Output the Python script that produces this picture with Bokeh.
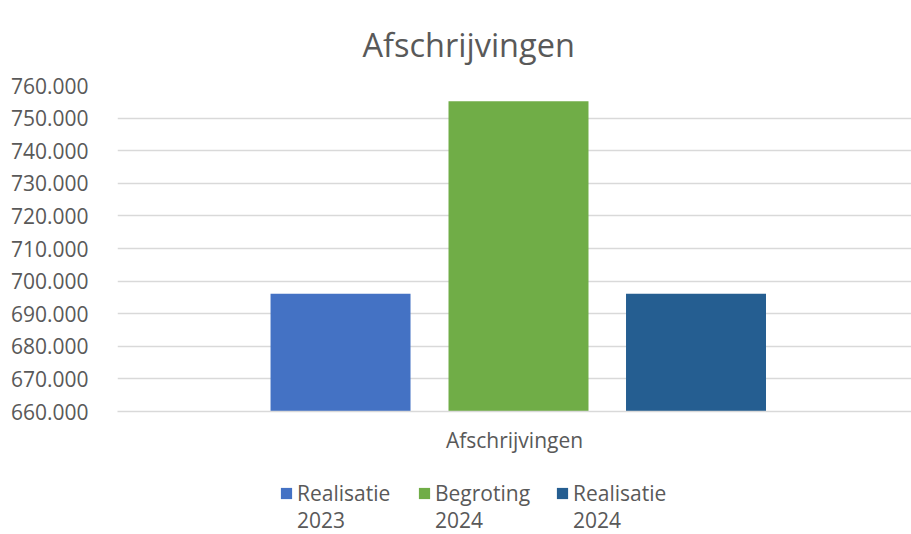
from bokeh.plotting import figure
from bokeh.layouts import column
from bokeh.models import (FactorRange, Range1d, FixedTicker, Legend, LegendItem,
                          ColumnDataSource, Title)
from bokeh.transform import dodge
from bokeh.embed import file_html
from bokeh.resources import INLINE

# ---- data ----
title_text = "Afschrijvingen"
category = ["Afschrijvingen"]
series_names = ["Realisatie\n2023", "Begroting\n2024", "Realisatie\n2024"]
series_values = [696100, 755200, 696100]
series_colors = ["#4472C4", "#70AD47", "#255E91"]
y_ticks = [660000, 670000, 680000, 690000, 700000, 710000, 720000, 730000, 740000, 750000, 760000]
y_tick_labels = ["660.000", "670.000", "680.000", "690.000", "700.000", "710.000",
                 "720.000", "730.000", "740.000", "750.000", "760.000"]

FONT = "Open Sans"
GRAY = "#595959"
GRID = "#D9D9D9"

p = figure(width=911, height=462, output_backend="svg", toolbar_location=None,
           x_range=FactorRange(factors=category, range_padding=0),
           y_range=Range1d(y_ticks[0], y_ticks[-1]),
           min_border_left=117, min_border_right=0, min_border_top=85,
           min_border_bottom=51, title=None)
p.outline_line_color = None
p.background_fill_color = "white"
p.border_fill_color = "white"

t = Title(text=title_text, align="left", offset=245, standoff=38, text_font=FONT,
          text_font_size="32.5px", text_font_style="normal", text_color=GRAY)
p.add_layout(t, "above")

offsets = [-0.2191, 0.00504, 0.2286]
for val, col, off in zip(series_values, series_colors, offsets):
    src = ColumnDataSource(dict(x=category, top=[val], bottom=[y_ticks[0]]))
    p.vbar(x=dodge("x", off, range=p.x_range), top="top", bottom="bottom",
           width=0.1763, source=src, fill_color=col, line_color=None)

# axes
p.yaxis.ticker = FixedTicker(ticks=y_ticks)
p.yaxis.major_label_overrides = {v: s for v, s in zip(y_ticks, y_tick_labels)}
p.yaxis.axis_line_color = None
p.yaxis.major_tick_line_color = None
p.yaxis.minor_tick_line_color = None
p.yaxis.major_label_standoff = 23
p.yaxis.major_label_text_font = FONT
p.yaxis.major_label_text_font_size = "21px"
p.yaxis.major_label_text_color = GRAY

p.xaxis.axis_line_color = GRID
p.xaxis.axis_line_width = 1.5
p.xaxis.major_tick_line_color = None
p.xaxis.minor_tick_line_color = None
p.xaxis.major_label_standoff = 8
p.xaxis.major_label_text_font = FONT
p.xaxis.major_label_text_font_size = "21px"
p.xaxis.major_label_text_color = GRAY

p.xgrid.grid_line_color = None
p.ygrid.grid_line_color = GRID
p.ygrid.grid_line_width = 1.5

# ---- legend strip (label line 1 with swatch, line 2 below it) ----
lg = figure(width=911, height=72, output_backend="svg", toolbar_location=None,
            x_range=FactorRange(factors=category), y_range=Range1d(0, 1),
            x_axis_type=None, y_axis_type=None,
            min_border_left=0, min_border_right=0, min_border_top=0, min_border_bottom=0)
lg.outline_line_color = None
lg.xgrid.grid_line_color = None
lg.ygrid.grid_line_color = None
items_top, items_bottom = [], []
for name, val, col in zip(series_names, series_values, series_colors):
    line1, line2 = name.split("\n")
    src = ColumnDataSource(dict(x=category, top=[val], bottom=[y_ticks[0]]))
    r = lg.vbar(x="x", top="top", bottom="bottom", width=0.1, source=src,
                fill_color=col, line_color=None, visible=False)
    r2 = lg.vbar(x="x", top="top", bottom="bottom", width=0.1, source=src,
                 fill_alpha=0, line_alpha=0, visible=False)
    items_top.append(LegendItem(label=line1, renderers=[r]))
    items_bottom.append(LegendItem(label=line2, renderers=[r2]))

common = dict(orientation="horizontal", glyph_width=14, glyph_height=14,
              label_standoff=4, spacing=24, label_width=96, padding=0, margin=0,
              border_line_color=None, background_fill_alpha=0,
              label_text_font=FONT, label_text_font_size="21px",
              label_text_color=GRAY)
legend_top = Legend(items=items_top, location=(162, 27), **common)
legend_bottom = Legend(items=items_bottom, location=(162, 0), **common)
lg.add_layout(legend_top, "center")
lg.add_layout(legend_bottom, "center")

layout = column(p, lg, spacing=0)
open("out.html", "w").write(file_html(layout, INLINE))
